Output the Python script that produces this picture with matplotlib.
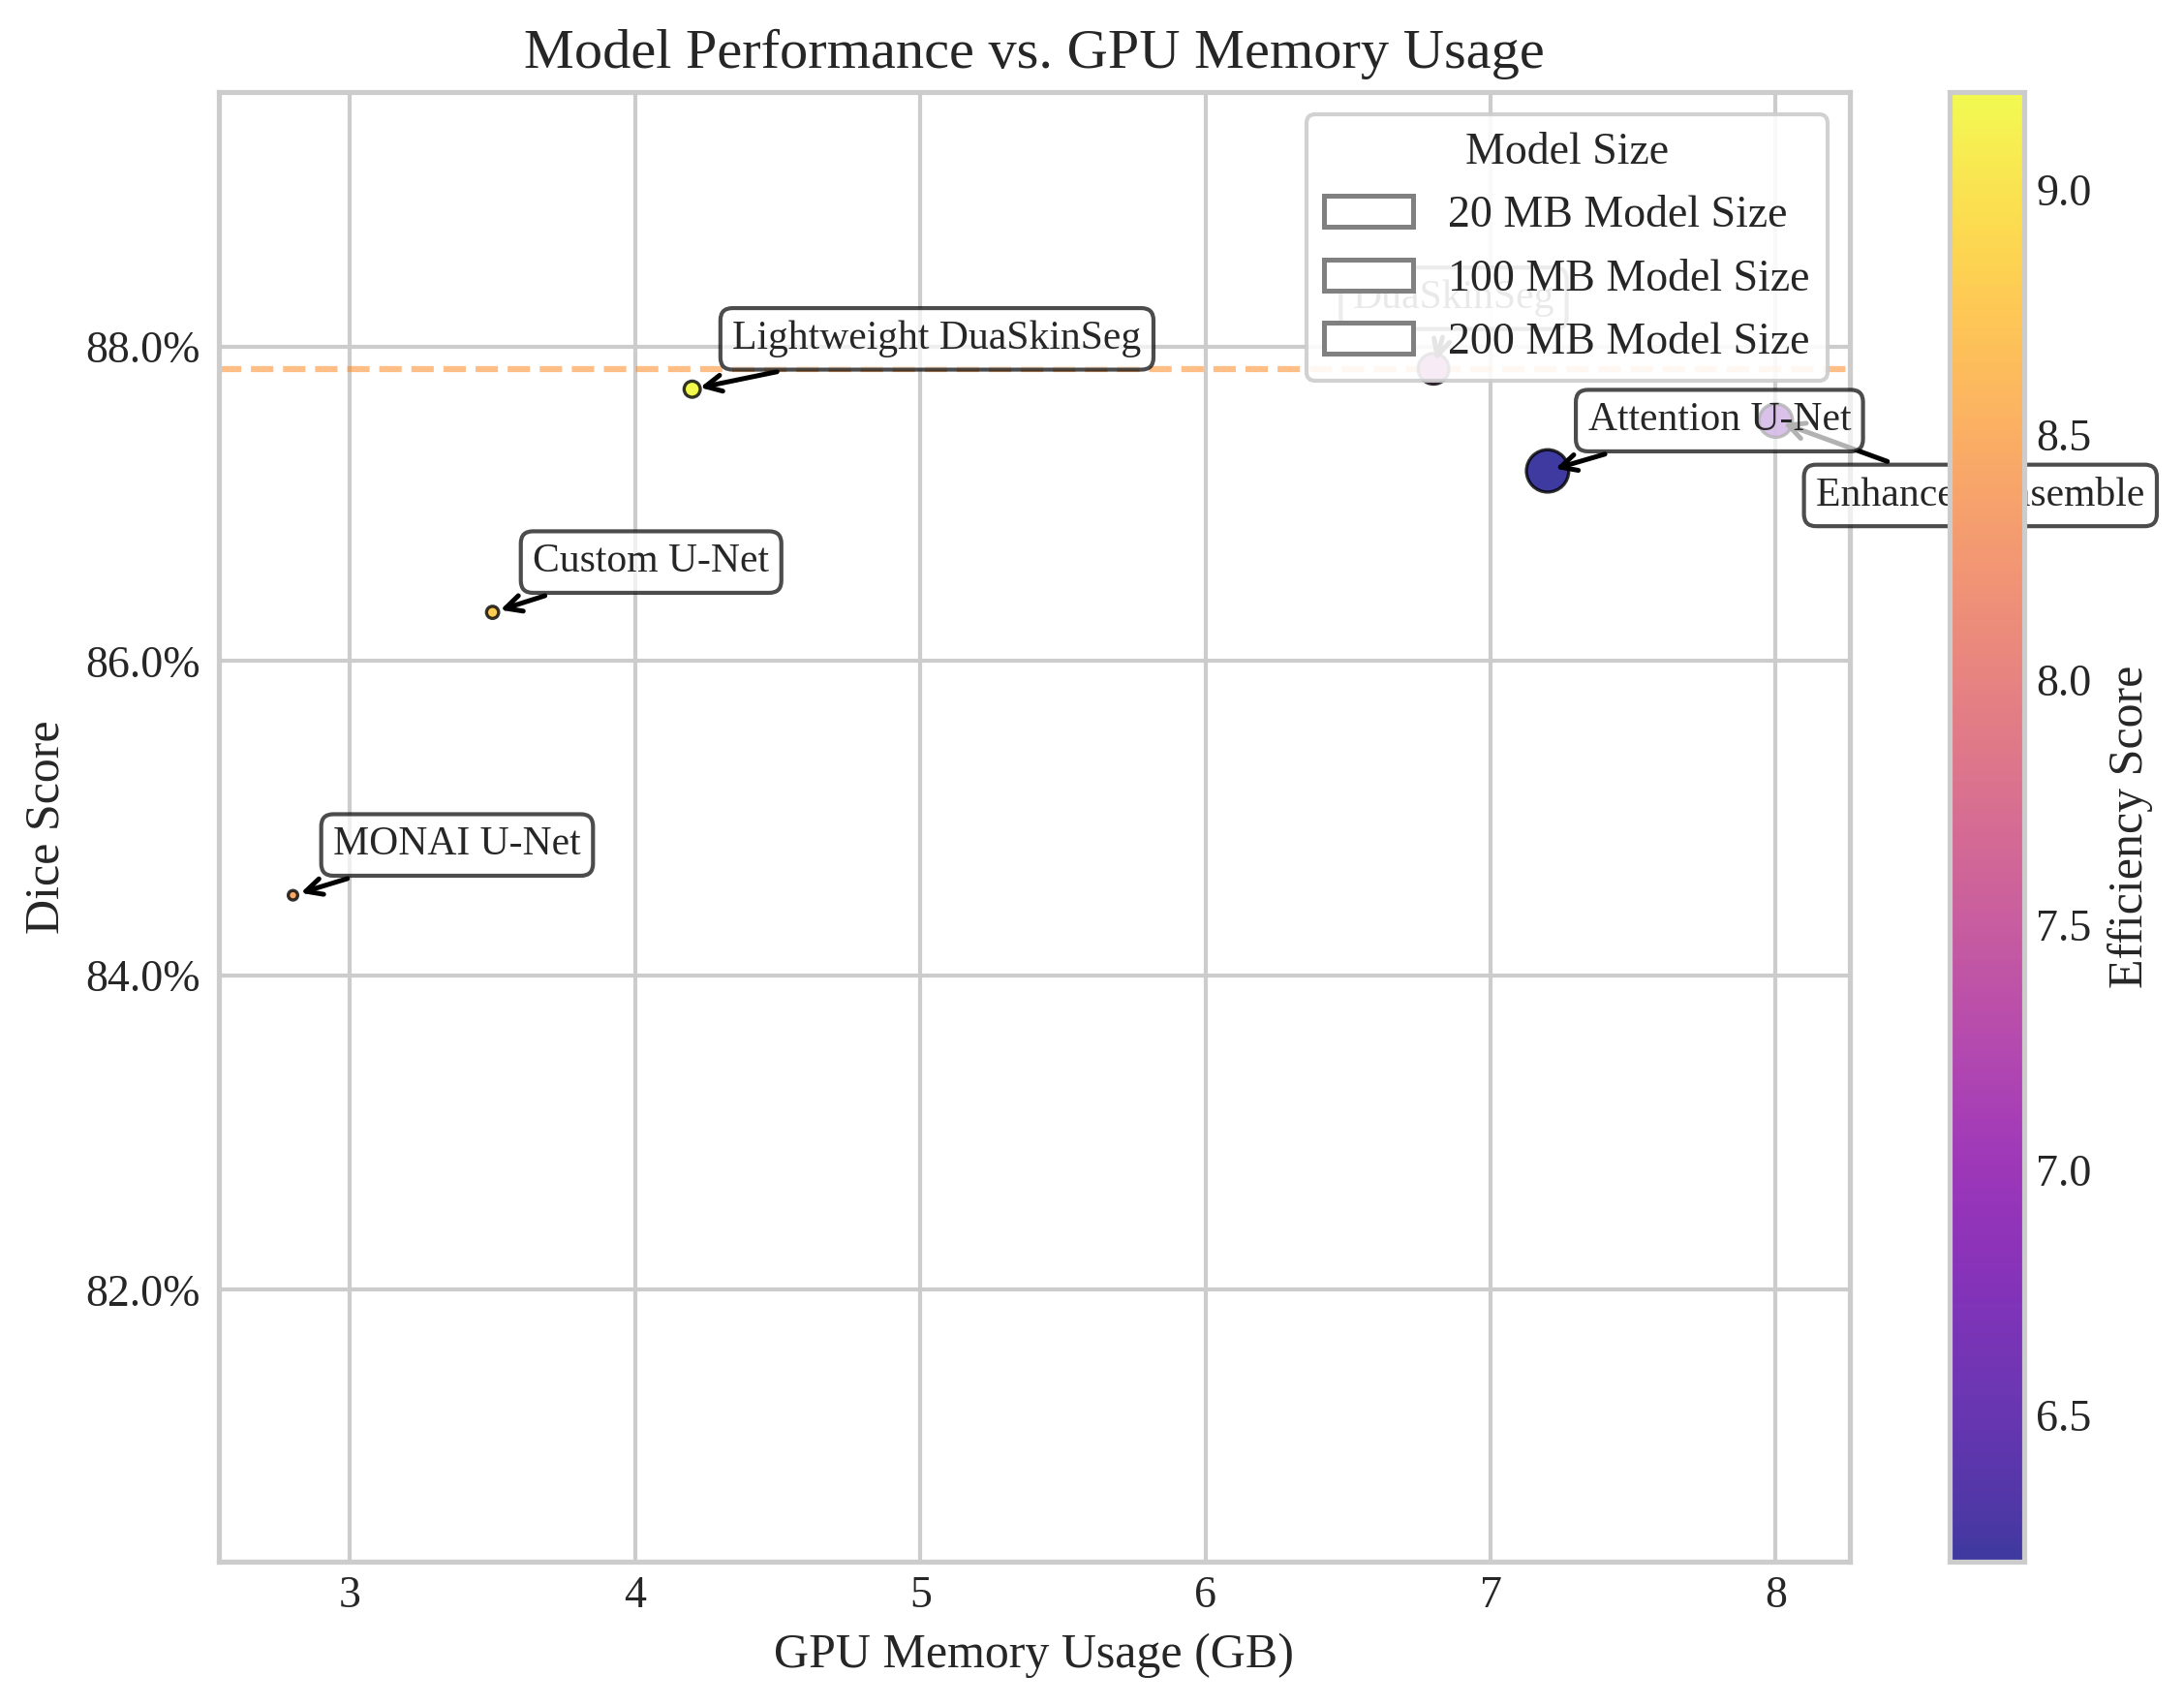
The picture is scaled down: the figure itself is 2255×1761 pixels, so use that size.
import numpy as np
import matplotlib
matplotlib.use('Agg')
import matplotlib.pyplot as plt
import matplotlib.patches as mpatches
import seaborn as sns

# данные моделей
models = ['MONAI U-Net', 'Custom U-Net', 'Lightweight DuaSkinSeg', 'DuaSkinSeg',
          'Enhanced Ensemble', 'Attention U-Net']
gpu_memory = [2.8, 3.5, 4.2, 6.8, 8.0, 7.2]          # GB
dice_score = [84.51, 86.31, 87.73, 87.86, 87.53, 87.21]  # %
efficiency = [8.45, 8.8, 9.2, 7.3, 6.75, 6.2]
model_size = [5.5, 9, 16, 58, 69, 110]               # MB
legend_sizes = [20, 100, 200]

sns.set_theme(style='whitegrid')
plt.rcParams['font.family'] = ['Liberation Serif', 'DejaVu Serif']

fig = plt.figure(figsize=(2255 / 300, 1761 / 300), dpi=300)
ax = fig.add_axes([0.1002, 0.0846, 0.7468, 0.8614])
cax = fig.add_axes([0.8927, 0.0846, 0.0341, 0.8614])

sc = ax.scatter(gpu_memory, dice_score, s=model_size, c=efficiency, cmap='plasma',
                alpha=0.8, edgecolors='black', linewidths=0.8, zorder=3)

# линия лучшего результата (DuaSkinSeg)
best = dice_score[models.index('DuaSkinSeg')]
ax.axhline(best, color='#ff7f0e', alpha=0.5, linestyle='--', linewidth=1.5, zorder=2)

offsets = {'DuaSkinSeg': (-20, 15), 'Enhanced Ensemble': (10, -21)}
for name, x, y in zip(models, gpu_memory, dice_score):
    ax.annotate(name, (x, y), xytext=offsets.get(name, (10, 10)), textcoords='offset points',
                fontsize=10,
                bbox=dict(boxstyle='round,pad=0.3', fc='white', ec='black', alpha=0.7),
                arrowprops=dict(arrowstyle='->', color='black', lw=1.2), zorder=4)

ax.set_ylim(80.27, 89.62)
ax.yaxis.set_major_formatter(plt.FuncFormatter(lambda v, p: f'{v:.1f}%'))
ax.tick_params(labelsize=11, length=0)
ax.tick_params(axis='y', pad=4.5)
ax.set_xlabel('GPU Memory Usage (GB)', fontsize=12)
ax.set_ylabel('Dice Score', fontsize=12)
ax.set_title('Model Performance vs. GPU Memory Usage', fontsize=14)

handles = [mpatches.Patch(facecolor='white', edgecolor='gray', linewidth=1.2,
                          label=f'{s} MB Model Size') for s in legend_sizes]
leg = ax.legend(handles=handles, title='Model Size', loc='upper right', fontsize=11,
                title_fontsize=11, framealpha=0.9)
leg.set_zorder(5)

cbar = fig.colorbar(sc, cax=cax)
cbar.set_label('Efficiency Score', fontsize=12)
cbar.ax.tick_params(labelsize=11, length=0, pad=3)
cbar.ax.grid(False)
cbar.outline.set_edgecolor('#cccccc')

plt.savefig('out.png', dpi=300)
